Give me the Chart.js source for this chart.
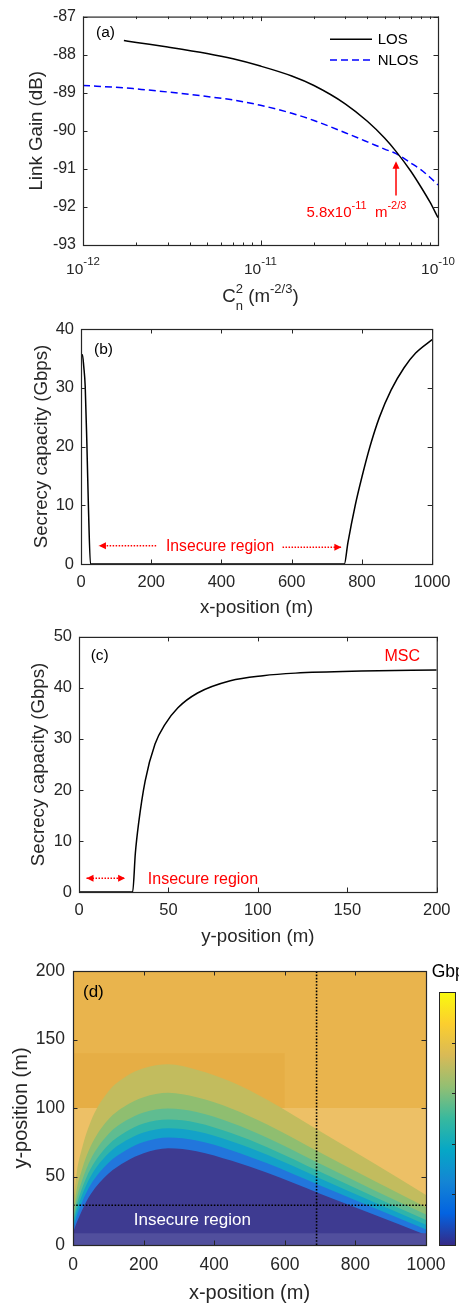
<!DOCTYPE html>
<html>
<head>
<meta charset="utf-8">
<script src="https://cdn.jsdelivr.net/npm/chart.js@4.4.1/dist/chart.umd.min.js"></script>
<style>
  html, body { margin: 0; padding: 0; background: #fff; }
  body { position: relative; width: 459px; height: 1305px; overflow: hidden; }
  canvas { position: absolute; left: 0; }
</style>
</head>
<body>
<canvas id="chartA" width="459" height="310" style="top:0"></canvas>
<canvas id="chartB" width="459" height="310" style="top:310px"></canvas>
<canvas id="chartC" width="459" height="330" style="top:620px"></canvas>
<canvas id="chartD" width="459" height="355" style="top:950px"></canvas>
<script>
// (a) link gain vs Cn2
const cn2 = [1e-12, 1.7e-12, 2e-12, 3e-12, 5e-12, 7e-12, 1e-11, 1.5e-11, 2e-11, 3e-11, 4e-11, 5e-11, 5.8e-11, 7e-11, 8e-11, 9e-11, 1e-10];
const losGain = [null, -87.63, -87.68, -87.80, -87.97, -88.11, -88.30, -88.56, -88.81, -89.29, -89.75, -90.19, -90.54, -91.05, -91.47, -91.87, -92.28];
const nlosGain = [-88.81, -88.87, -88.90, -88.98, -89.10, -89.19, -89.33, -89.54, -89.73, -90.05, -90.29, -90.48, -90.60, -90.84, -91.02, -91.22, -91.42];
const cn2Decades = [1e-12, 1e-11, 1e-10];
const cn2Minor = [2e-12, 3e-12, 4e-12, 5e-12, 6e-12, 7e-12, 8e-12, 9e-12, 2e-11, 3e-11, 4e-11, 5e-11, 6e-11, 7e-11, 8e-11, 9e-11];
const crossCn2 = 5.8e-11;

// (b) secrecy capacity along x
const xPos = [0, 4, 8, 12, 16.7, 21.4, 27, 100, 200, 300, 400, 500, 600, 700, 750, 760, 781, 800, 823, 850, 883, 920, 953, 1000];
const scAlongX = [35.3, 35.6, 33.5, 30.2, 20.5, 9.2, 0, 0, 0, 0, 0, 0, 0, 0, 0, 3.6, 10, 14.8, 20, 25.0, 29.6, 33.4, 35.9, 38.2];

// (c) secrecy capacity along y
const yPos = [0, 10, 20, 30, 31.5, 33.3, 37, 42.5, 48, 55.3, 66.3, 84.6, 102.9, 121, 157.9, 200];
const scAlongY = [0, 0, 0, 0, 7.6, 13.4, 21.8, 29, 32.8, 36.1, 39, 41.4, 42.4, 42.9, 43.3, 43.5];

// (d) contour boundaries (y-position of each level vs x-position)
const gridX = [0, 10, 25, 50, 100, 150, 200, 270, 350, 450, 550, 700, 850, 1000];
const level1 = [28, 52, 70, 90, 112, 123, 129, 132, 128, 119, 106, 83, 60, 36.5];
const level2 = [21.5, 39.8, 54.7, 72, 91.6, 101.9, 107.9, 111.1, 107.8, 99.5, 87.9, 67.5, 47.2, 27.5];
const level3 = [18.1, 33.3, 46.6, 62.4, 80.8, 90.8, 96.8, 99.6, 97.1, 89.1, 78.3, 59.3, 40.4, 22.3];
const level4 = [15.7, 28.6, 40.8, 55.6, 73, 82.7, 88.7, 91.6, 89.3, 81.6, 71.4, 53.4, 35.6, 18.2];
const level5 = [13.7, 24.8, 36, 50, 66.7, 76.2, 82.2, 85.3, 83.1, 75.6, 65.8, 48.6, 31.6, 14.8];
const level6 = [11.5, 20.7, 30.9, 43.9, 59.8, 69.1, 75.1, 78.4, 76.2, 69, 59.6, 43.4, 27.3, 11.3];
const level7 = [9, 16, 25, 37, 52, 61, 67, 70.6, 68.5, 61.5, 52.7, 37.5, 22.4, 7.3];
const levels = [level1, level2, level3, level4, level5, level6, level7];
const shadeX = [0, 600];
const shadeTop = [140, 140];
const paleX = [0, 1000];
const paleTop = [100, 100];
const stripTop = [8.5, 8.5];
const cutX = 690;
const cutY = 29;
const colorbarTicks = [10, 20, 30, 40];

const FONT = '"Liberation Sans", Arial, Helvetica, sans-serif';
const INK = '#262626';
Chart.defaults.font.family = FONT;
Chart.defaults.color = INK;
Chart.defaults.animation = false;
Chart.defaults.responsive = false;
Chart.defaults.plugins.legend.display = false;
Chart.defaults.plugins.tooltip.enabled = false;
Chart.defaults.elements.point.radius = 0;

const pts = (xs, ys) => xs.map((x, i) => ({ x, y: ys[i] })).filter(p => p.y !== null);

function richText(ctx, parts, x, y, align) {
  let total = 0;
  parts.forEach(p => {
    ctx.font = p.size + 'px ' + FONT;
    p.w = ctx.measureText(p.text).width;
    if (!p.stack) total += p.w;
  });
  let cx = align === 'center' ? x - total / 2 : x;
  ctx.textAlign = 'left';
  ctx.textBaseline = 'alphabetic';
  parts.forEach(p => {
    ctx.font = p.size + 'px ' + FONT;
    ctx.fillText(p.text, cx, y + (p.dy || 0));
    if (!p.stack) cx += p.w;
  });
}

function label(ctx, text, x, y, size, color, align) {
  ctx.font = size + 'px ' + FONT;
  ctx.fillStyle = color;
  ctx.textAlign = align || 'left';
  ctx.textBaseline = 'middle';
  ctx.fillText(text, x, y);
}

function dottedArrow(ctx, x1, x2, y, heads) {
  ctx.save();
  ctx.strokeStyle = '#ff0000';
  ctx.fillStyle = '#ff0000';
  ctx.lineWidth = 1.5;
  ctx.setLineDash([1.5, 1.5]);
  ctx.beginPath();
  ctx.moveTo(x1, y);
  ctx.lineTo(x2, y);
  ctx.stroke();
  ctx.setLineDash([]);
  heads.forEach(([tx, dir]) => {
    ctx.beginPath();
    ctx.moveTo(tx, y);
    ctx.lineTo(tx - dir * 7, y - 3.5);
    ctx.lineTo(tx - dir * 7, y + 3.5);
    ctx.closePath();
    ctx.fill();
  });
  ctx.restore();
}

// box with inward ticks on all four sides
const boxTicks = {
  id: 'boxTicks',
  afterDatasetsDraw(chart, args, o) {
    const { ctx, chartArea: a, scales: { x, y } } = chart;
    const xs = o.xMajor || x.ticks.map(t => t.value);
    const ys = o.yMajor || y.ticks.map(t => t.value);
    ctx.save();
    ctx.strokeStyle = INK;
    ctx.lineWidth = 1;
    ctx.beginPath();
    const vt = (v, len) => {
      const p = Math.round(x.getPixelForValue(v)) + 0.5;
      ctx.moveTo(p, a.bottom); ctx.lineTo(p, a.bottom - len);
      ctx.moveTo(p, a.top); ctx.lineTo(p, a.top + len);
    };
    const ht = (v, len) => {
      const p = Math.round(y.getPixelForValue(v)) + 0.5;
      ctx.moveTo(a.left, p); ctx.lineTo(a.left + len, p);
      ctx.moveTo(a.right, p); ctx.lineTo(a.right - len, p);
    };
    xs.forEach(v => vt(v, 4.5));
    (o.xMinor || []).forEach(v => vt(v, 2.5));
    ys.forEach(v => ht(v, 4.5));
    ctx.stroke();
    ctx.lineWidth = 1.2;
    ctx.strokeRect(a.left + 0.5, a.top + 0.5, a.right - a.left, a.bottom - a.top);
    ctx.restore();
  }
};

const plain = v => String(v);
const yAxis = (min, max, step, title, titlePad, width, tickSize, titleSize) => ({
  min, max,
  ticks: { stepSize: step, padding: 7, font: { size: tickSize }, callback: plain },
  grid: { display: false, drawTicks: false },
  border: { display: false },
  title: { display: true, text: title, font: { size: titleSize }, padding: { top: titlePad, bottom: 0 } },
  afterFit: s => { s.width = width; }
});
const xAxis = (min, max, step, title, tickPad, titlePad, height, tickSize, titleSize) => ({
  type: 'linear', min, max,
  ticks: { stepSize: step, padding: tickPad, maxRotation: 0, autoSkip: false, font: { size: tickSize }, callback: plain },
  grid: { display: false, drawTicks: false },
  border: { display: false },
  title: { display: true, text: title, font: { size: titleSize }, padding: { top: 0, bottom: titlePad } },
  afterFit: s => { s.height = height; }
});

// ---------- (a)
const panelA = {
  id: 'panelA',
  afterDraw(chart) {
    const { ctx, chartArea: a, scales: { x } } = chart;
    ctx.save();
    ctx.fillStyle = INK;
    cn2Decades.forEach(v => {
      const e = String(Math.round(Math.log10(v)));
      richText(ctx, [{ text: '10', size: 15.5 }, { text: e, size: 11.5, dy: -8.3 }], x.getPixelForValue(v), a.bottom + 28.5, 'center');
    });
    richText(ctx, [
      { text: 'C', size: 18.7 },
      { text: '2', size: 13, dy: -8.4, stack: true },
      { text: 'n', size: 13, dy: 8 },
      { text: ' (m', size: 18.7 },
      { text: '-2/3', size: 13, dy: -8.4 },
      { text: ')', size: 18.7 }
    ], (a.left + a.right) / 2, 301.7, 'center');

    // legend
    ctx.lineWidth = 1.5;
    ctx.strokeStyle = '#000';
    ctx.beginPath(); ctx.moveTo(330, 39.3); ctx.lineTo(372, 39.3); ctx.stroke();
    ctx.strokeStyle = '#0000ff';
    ctx.setLineDash([7, 4]);
    ctx.beginPath(); ctx.moveTo(330, 60); ctx.lineTo(372, 60); ctx.stroke();
    ctx.setLineDash([]);
    label(ctx, 'LOS', 377.7, 39.5, 15, '#000');
    label(ctx, 'NLOS', 377.7, 60.5, 15, '#000');
    label(ctx, '(a)', 96, 33, 15.5, '#000');

    // crossing arrow
    const ax = x.getPixelForValue(crossCn2);
    const ay = chart.scales.y;
    const tip = ay.getPixelForValue(-90.8);
    const tail = ay.getPixelForValue(-91.7);
    ctx.strokeStyle = '#ff0000';
    ctx.fillStyle = '#ff0000';
    ctx.lineWidth = 1.5;
    ctx.beginPath(); ctx.moveTo(ax, tip + 6); ctx.lineTo(ax, tail); ctx.stroke();
    ctx.beginPath(); ctx.moveTo(ax, tip); ctx.lineTo(ax - 3.5, tip + 7.5); ctx.lineTo(ax + 3.5, tip + 7.5); ctx.closePath(); ctx.fill();
    richText(ctx, [
      { text: '5.8x10', size: 15 },
      { text: '-11', size: 11, dy: -8 },
      { text: '  m', size: 15 },
      { text: '-2/3', size: 11, dy: -8 }
    ], ax - 89.5, 217, 'left');
    ctx.restore();
  }
};

new Chart(document.getElementById('chartA'), {
  type: 'line',
  data: {
    datasets: [
      { label: 'LOS', data: pts(cn2, losGain), borderColor: '#000', borderWidth: 1.5, cubicInterpolationMode: 'monotone' },
      { label: 'NLOS', data: pts(cn2, nlosGain), borderColor: '#0000ff', borderWidth: 1.5, borderDash: [7, 4], cubicInterpolationMode: 'monotone' }
    ]
  },
  options: {
    layout: { padding: { left: 0, right: 21, top: 12, bottom: 65 } },
    scales: {
      x: { type: 'logarithmic', min: 1e-12, max: 1e-10, display: false },
      y: yAxis(-93, -87, 1, 'Link Gain (dB)', 26, 83, 16, 18.7)
    },
    plugins: { boxTicks: { xMajor: cn2Decades, xMinor: cn2Minor } }
  },
  plugins: [boxTicks, panelA]
});

// ---------- (b)
const panelB = {
  id: 'panelB',
  afterDraw(chart) {
    const { ctx, scales: { x, y } } = chart;
    ctx.save();
    label(ctx, '(b)', 94, 40, 15.5, '#000');
    label(ctx, 'Insecure region', x.getPixelForValue(396), y.getPixelForValue(3), 15.7, '#ff0000', 'center');
    dottedArrow(ctx, x.getPixelForValue(214), x.getPixelForValue(51), y.getPixelForValue(3.1), [[x.getPixelForValue(51), -1]]);
    dottedArrow(ctx, x.getPixelForValue(574), x.getPixelForValue(741.5), y.getPixelForValue(2.85), [[x.getPixelForValue(741.5), 1]]);
    ctx.restore();
  }
};

new Chart(document.getElementById('chartB'), {
  type: 'line',
  data: { datasets: [{ data: pts(xPos, scAlongX), borderColor: '#000', borderWidth: 1.5, cubicInterpolationMode: 'monotone' }] },
  options: {
    layout: { padding: { left: 0, right: 19, top: 19, bottom: 0 } },
    scales: {
      x: xAxis(0, 1000, 200, 'x-position (m)', 8.5, 1, 56, 16.5, 18.7),
      y: yAxis(0, 40, 10, 'Secrecy capacity (Gbps)', 30.5, 81, 16.5, 18.7)
    }
  },
  plugins: [boxTicks, panelB]
});

// ---------- (c)
const panelC = {
  id: 'panelC',
  afterDraw(chart) {
    const { ctx, scales: { x, y } } = chart;
    ctx.save();
    label(ctx, '(c)', 90.7, 36, 15.5, '#000');
    label(ctx, 'MSC', x.getPixelForValue(190.7), y.getPixelForValue(46.2), 16, '#ff0000', 'right');
    label(ctx, 'Insecure region', x.getPixelForValue(38.5), y.getPixelForValue(2.5), 16, '#ff0000', 'left');
    const a1 = x.getPixelForValue(4.2), a2 = x.getPixelForValue(25.8);
    dottedArrow(ctx, a1, a2, y.getPixelForValue(2.7), [[a1, -1], [a2, 1]]);
    ctx.restore();
  }
};

new Chart(document.getElementById('chartC'), {
  type: 'line',
  data: { datasets: [{ data: pts(yPos, scAlongY), borderColor: '#000', borderWidth: 1.5, cubicInterpolationMode: 'monotone' }] },
  options: {
    layout: { padding: { left: 0, right: 16, top: 15, bottom: 0 } },
    scales: {
      x: xAxis(0, 200, 50, 'y-position (m)', 8.5, 2.3, 58, 16.5, 18.7),
      y: yAxis(0, 50, 10, 'Secrecy capacity (Gbps)', 27.8, 79, 16.5, 18.7)
    }
  },
  plugins: [boxTicks, panelC]
});

// ---------- (d)
const bandColors = ['#c2bc5e', '#8fbe70', '#5fbc91', '#2fb4aa', '#13a2c8', '#2276dc', '#3e3b91'];
const parula = ['#352a87', '#0363e1', '#1485d4', '#06a7c6', '#38b99e', '#92bf73', '#d9ba56', '#fcce2e', '#f9fb0e'];

const panelD = {
  id: 'panelD',
  afterDraw(chart) {
    const { ctx, chartArea: a, scales: { x, y } } = chart;
    ctx.save();
    label(ctx, '(d)', 83, 42.5, 17, '#000');
    label(ctx, 'Insecure region', x.getPixelForValue(338), y.getPixelForValue(18.2), 17, '#ffffff', 'center');
    // colorbar 0..50 Gbps
    const cl = a.right + 13, cw = 16, ct = a.top + 21, cb = a.bottom;
    const g = ctx.createLinearGradient(0, cb, 0, ct);
    parula.forEach((c, i) => g.addColorStop(i / (parula.length - 1), c));
    ctx.fillStyle = g;
    ctx.fillRect(cl, ct, cw, cb - ct);
    ctx.strokeStyle = INK;
    ctx.lineWidth = 1;
    ctx.strokeRect(cl + 0.5, ct + 0.5, cw, cb - ct);
    ctx.beginPath();
    colorbarTicks.forEach(v => {
      const p = Math.round(cb - (cb - ct) * v / 50) + 0.5;
      ctx.moveTo(cl + cw, p); ctx.lineTo(cl + cw - 3, p);
    });
    ctx.stroke();
    ctx.font = '17.5px ' + FONT;
    ctx.fillStyle = '#000';
    ctx.textAlign = 'left';
    ctx.textBaseline = 'alphabetic';
    ctx.fillText('Gbps', 431.7, 26.7);
    ctx.restore();
  }
};

const fillSet = (data, color, order) => ({ data, fill: 'origin', backgroundColor: color, borderWidth: 0, order, tension: 0 });
const dSets = [
  fillSet(pts(paleX, [200, 200]), '#e9b44d', 40),
  fillSet(pts(shadeX, shadeTop), '#e6ae45', 39),
  fillSet(pts(paleX, paleTop), '#edc066', 38)
];
levels.forEach((lv, i) => {
  dSets.push({ ...fillSet(pts(gridX, lv), bandColors[i], 30 - i), cubicInterpolationMode: 'monotone' });
});
dSets.push(fillSet(pts(paleX, stripTop), '#514f9d', 10));
dSets.push({ data: [{ x: cutX, y: 0 }, { x: cutX, y: 200 }], borderColor: '#000', borderWidth: 1.6, borderDash: [1.6, 1.6], fill: false, order: 1 });
dSets.push({ data: [{ x: 0, y: cutY }, { x: 1000, y: cutY }], borderColor: '#000', borderWidth: 1.6, borderDash: [1.6, 1.6], fill: false, order: 2 });

new Chart(document.getElementById('chartD'), {
  type: 'line',
  data: { datasets: dSets },
  options: {
    layout: { padding: { left: 0, right: 33, top: 21, bottom: 0 } },
    scales: {
      x: xAxis(0, 1000, 200, 'x-position (m)', 10, 0, 60, 17.5, 20),
      y: { ...yAxis(0, 200, 50, 'y-position (m)', 9, 73, 17.5, 20), ticks: { stepSize: 50, padding: 8, font: { size: 17.5 }, callback: plain } }
    }
  },
  plugins: [boxTicks, panelD]
});
</script>
</body>
</html>
